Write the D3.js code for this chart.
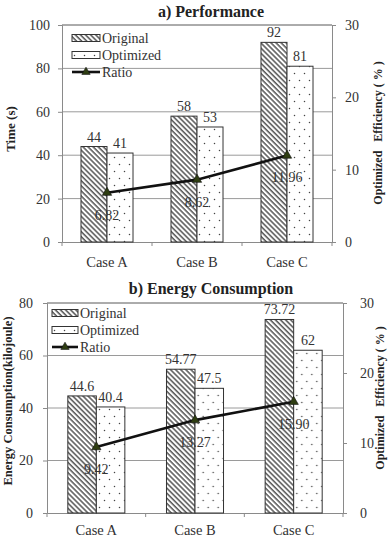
<!DOCTYPE html>
<html>
<head>
<meta charset="utf-8">
<script src="https://cdn.jsdelivr.net/npm/d3@7/dist/d3.min.js"></script>
<style>
  body { margin: 0; background: #fff; }
  svg text { font-family: "Liberation Serif", "Times New Roman", serif !important; white-space: pre; }
</style>
</head>
<body>
<svg id="chart" width="389" height="543"></svg>
<script>
// ---------------- data ----------------
var cases = ["Case A", "Case B", "Case C"];
var seriesNames = ["Original", "Optimized", "Ratio"];

var perfOriginal = [44, 58, 92];
var perfOptimized = [41, 53, 81];
var perfRatio = [6.82, 8.62, 11.96];

var energyOriginal = [44.6, 54.77, 73.72];
var energyOptimized = [40.4, 47.5, 62];
var energyRatio = [9.42, 13.27, 15.90];

var perfTicks = [0, 20, 40, 60, 80, 100];
var energyTicks = [0, 20, 40, 60, 80];
var ratioTicks = [0, 10, 20, 30];

// ---------------- canvas ----------------
var svg = d3.select("#chart");
var defs = svg.append("defs");

// diagonal hatch for Original
var hatch = defs.append("pattern")
  .attr("id", "hatch")
  .attr("patternUnits", "userSpaceOnUse")
  .attr("width", 3.6).attr("height", 3.6)
  .attr("patternTransform", "rotate(-45)");
hatch.append("rect").attr("width", 3.6).attr("height", 3.6).attr("fill", "#fff");
hatch.append("line")
  .attr("x1", 1).attr("y1", 0).attr("x2", 1).attr("y2", 3.6)
  .attr("stroke", "#3a3a3a").attr("stroke-width", 1.3);

// sparse dots for Optimized
var dots = defs.append("pattern")
  .attr("id", "dots")
  .attr("patternUnits", "userSpaceOnUse")
  .attr("width", 10).attr("height", 14);
dots.append("rect").attr("width", 10).attr("height", 14).attr("fill", "#fff");
dots.append("circle").attr("cx", 2.5).attr("cy", 3.5).attr("r", 0.75).attr("fill", "#444");
dots.append("circle").attr("cx", 7.5).attr("cy", 10.5).attr("r", 0.75).attr("fill", "#444");

function drawPanel(cfg) {
  var g = svg.append("g");
  var x0 = d3.scaleBand().domain(cases).range([cfg.left, cfg.right]).padding(0);
  var x1 = d3.scaleBand().domain(["orig", "opt"]).range([0, x0.bandwidth()])
    .paddingInner(0).paddingOuter(0.73);
  var y = d3.scaleLinear().domain([0, cfg.yMax]).range([cfg.bottom, cfg.top]);
  var y2 = d3.scaleLinear().domain([0, 30]).range([cfg.bottom, cfg.top]);

  // grid
  g.append("g").selectAll("line").data(cfg.yTicks.slice(1)).enter().append("line")
    .attr("x1", cfg.left).attr("x2", cfg.right)
    .attr("y1", d => y(d)).attr("y2", d => y(d))
    .attr("stroke", "#9a9a9a").attr("stroke-width", 1);

  // left axis
  var la = g.append("g").attr("transform", "translate(" + cfg.left + ",0)")
    .call(d3.axisLeft(y).tickValues(cfg.yTicks).tickSize(4).tickPadding(cfg.lPad));
  la.select(".domain").attr("stroke", "#8a8a8a");
  la.selectAll(".tick line").attr("stroke", "#8a8a8a");
  la.selectAll("text").attr("font-size", 14).attr("fill", "#333");

  // right axis
  var ra = g.append("g").attr("transform", "translate(" + cfg.right + ",0)")
    .call(d3.axisRight(y2).tickValues(ratioTicks).tickSize(4).tickPadding(cfg.rPad));
  ra.select(".domain").attr("stroke", "#8a8a8a");
  ra.selectAll(".tick line").attr("stroke", "#8a8a8a");
  ra.selectAll("text").attr("font-size", 14).attr("fill", "#333");

  // bottom axis
  var ba = g.append("g").attr("transform", "translate(0," + cfg.bottom + ")")
    .call(d3.axisBottom(x0).tickSize(0).tickPadding(cfg.bPad));
  ba.select(".domain").attr("stroke", "#8a8a8a");
  ba.selectAll("text").attr("font-size", 14.5).attr("fill", "#333");
  var bounds = cases.map(c => x0(c)).concat([cfg.right]);
  ba.selectAll(".bt").data(bounds).enter().append("line")
    .attr("x1", d => d).attr("x2", d => d).attr("y1", 0).attr("y2", 4)
    .attr("stroke", "#8a8a8a");

  // bars
  var rows = cases.map((c, i) => ({ c: c, orig: cfg.orig[i], opt: cfg.opt[i] }));
  var grp = g.append("g").selectAll("g").data(rows).enter().append("g")
    .attr("transform", d => "translate(" + x0(d.c) + ",0)");
  grp.append("rect")
    .attr("x", x1("orig")).attr("width", x1.bandwidth())
    .attr("y", d => y(d.orig)).attr("height", d => cfg.bottom - y(d.orig))
    .attr("fill", "url(#hatch)").attr("stroke", "#333").attr("stroke-width", 1);
  grp.append("rect")
    .attr("x", x1("opt")).attr("width", x1.bandwidth())
    .attr("y", d => y(d.opt)).attr("height", d => cfg.bottom - y(d.opt))
    .attr("fill", "url(#dots)").attr("stroke", "#333").attr("stroke-width", 1);
  grp.append("text")
    .attr("x", x1("orig") + x1.bandwidth() / 2).attr("y", d => y(d.orig) - 5)
    .attr("text-anchor", "middle").attr("font-size", 14).attr("fill", "#333")
    .text(d => String(d.orig));
  grp.append("text")
    .attr("x", x1("opt") + x1.bandwidth() / 2).attr("y", d => y(d.opt) - 5)
    .attr("text-anchor", "middle").attr("font-size", 14).attr("fill", "#333")
    .text(d => String(d.opt));

  // ratio line
  var pts = cases.map((c, i) => ({ x: x0(c) + x0.bandwidth() / 2, v: cfg.ratio[i] }));
  g.append("path").datum(pts)
    .attr("d", d3.line().x(d => d.x).y(d => y2(d.v)))
    .attr("fill", "none").attr("stroke", "#111").attr("stroke-width", 2.6);
  g.append("g").selectAll("path").data(pts).enter().append("path")
    .attr("d", d3.symbol(d3.symbolTriangle).size(38))
    .attr("transform", d => "translate(" + d.x + "," + y2(d.v) + ")")
    .attr("fill", "#2e3d12").attr("stroke", "#111").attr("stroke-width", 0.6);
  g.append("g").selectAll("text").data(pts).enter().append("text")
    .attr("x", d => d.x).attr("y", d => y2(d.v) + 27)
    .attr("text-anchor", "middle").attr("font-size", 14).attr("fill", "#333")
    .text(d => d.v.toFixed(2));

  // frame top
  g.append("line").attr("x1", cfg.left).attr("x2", cfg.right)
    .attr("y1", cfg.top).attr("y2", cfg.top).attr("stroke", "#8a8a8a");

  // title
  g.append("text").attr("x", 211).attr("y", cfg.titleY)
    .attr("text-anchor", "middle").attr("font-size", 16).attr("font-weight", "bold")
    .attr("fill", "#222").text(cfg.title);

  // axis titles
  g.append("text")
    .attr("transform", "translate(" + cfg.lTitle[0] + "," + cfg.lTitle[1] + ") rotate(-90)")
    .attr("text-anchor", "middle").attr("dy", "0.35em")
    .attr("font-size", cfg.lTitleSize).attr("font-weight", "bold").attr("fill", "#222")
    .text(cfg.leftTitle);
  g.append("text")
    .attr("transform", "translate(" + cfg.rTitle[0] + "," + cfg.rTitle[1] + ") rotate(-90)")
    .attr("text-anchor", "middle").attr("dy", "0.35em")
    .attr("font-size", 12).attr("font-weight", "bold").attr("fill", "#222")
    .text("Optimized   Efficiency ( % )");

  // legend
  var lg = g.append("g").attr("transform", "translate(" + cfg.legend[0] + "," + cfg.legend[1] + ")");
  var sw = cfg.swatch;
  lg.append("rect").attr("x", 0).attr("y", -3.5).attr("width", sw).attr("height", 7)
    .attr("fill", "url(#hatch)").attr("stroke", "#333");
  lg.append("rect").attr("x", 0).attr("y", 17 - 3.5).attr("width", sw).attr("height", 7)
    .attr("fill", "url(#dots)").attr("stroke", "#333");
  lg.append("line").attr("x1", 0).attr("x2", sw).attr("y1", 34).attr("y2", 34)
    .attr("stroke", "#111").attr("stroke-width", 2.6);
  lg.append("path").attr("d", d3.symbol(d3.symbolTriangle).size(30))
    .attr("transform", "translate(" + (sw / 2) + ",34)")
    .attr("fill", "#2e3d12").attr("stroke", "#111").attr("stroke-width", 0.6);
  lg.selectAll("text.lab").data(seriesNames).enter().append("text")
    .attr("x", sw + 2).attr("y", (d, i) => i * 17).attr("dy", "0.35em")
    .attr("font-size", 14).attr("fill", "#333").text(d => d);
}

drawPanel({
  title: "a) Performance", titleY: 17,
  left: 62, right: 332, top: 25, bottom: 242,
  yMax: 100, yTicks: perfTicks,
  orig: perfOriginal, opt: perfOptimized, ratio: perfRatio,
  lPad: 8, rPad: 9, bPad: 15,
  leftTitle: "Time (s)", lTitle: [10, 129], lTitleSize: 13,
  rTitle: [378, 133],
  legend: [72, 38], swatch: 28
});

drawPanel({
  title: "b) Energy Consumption", titleY: 294,
  left: 47, right: 343, top: 303, bottom: 513,
  yMax: 80, yTicks: energyTicks,
  orig: energyOriginal, opt: energyOptimized, ratio: energyRatio,
  lPad: 10, rPad: 13, bPad: 12,
  leftTitle: "Energy Consumption(kilojoule)", lTitle: [8, 401], lTitleSize: 12.5,
  rTitle: [380, 398],
  legend: [52, 313], swatch: 26
});
</script>
</body>
</html>
